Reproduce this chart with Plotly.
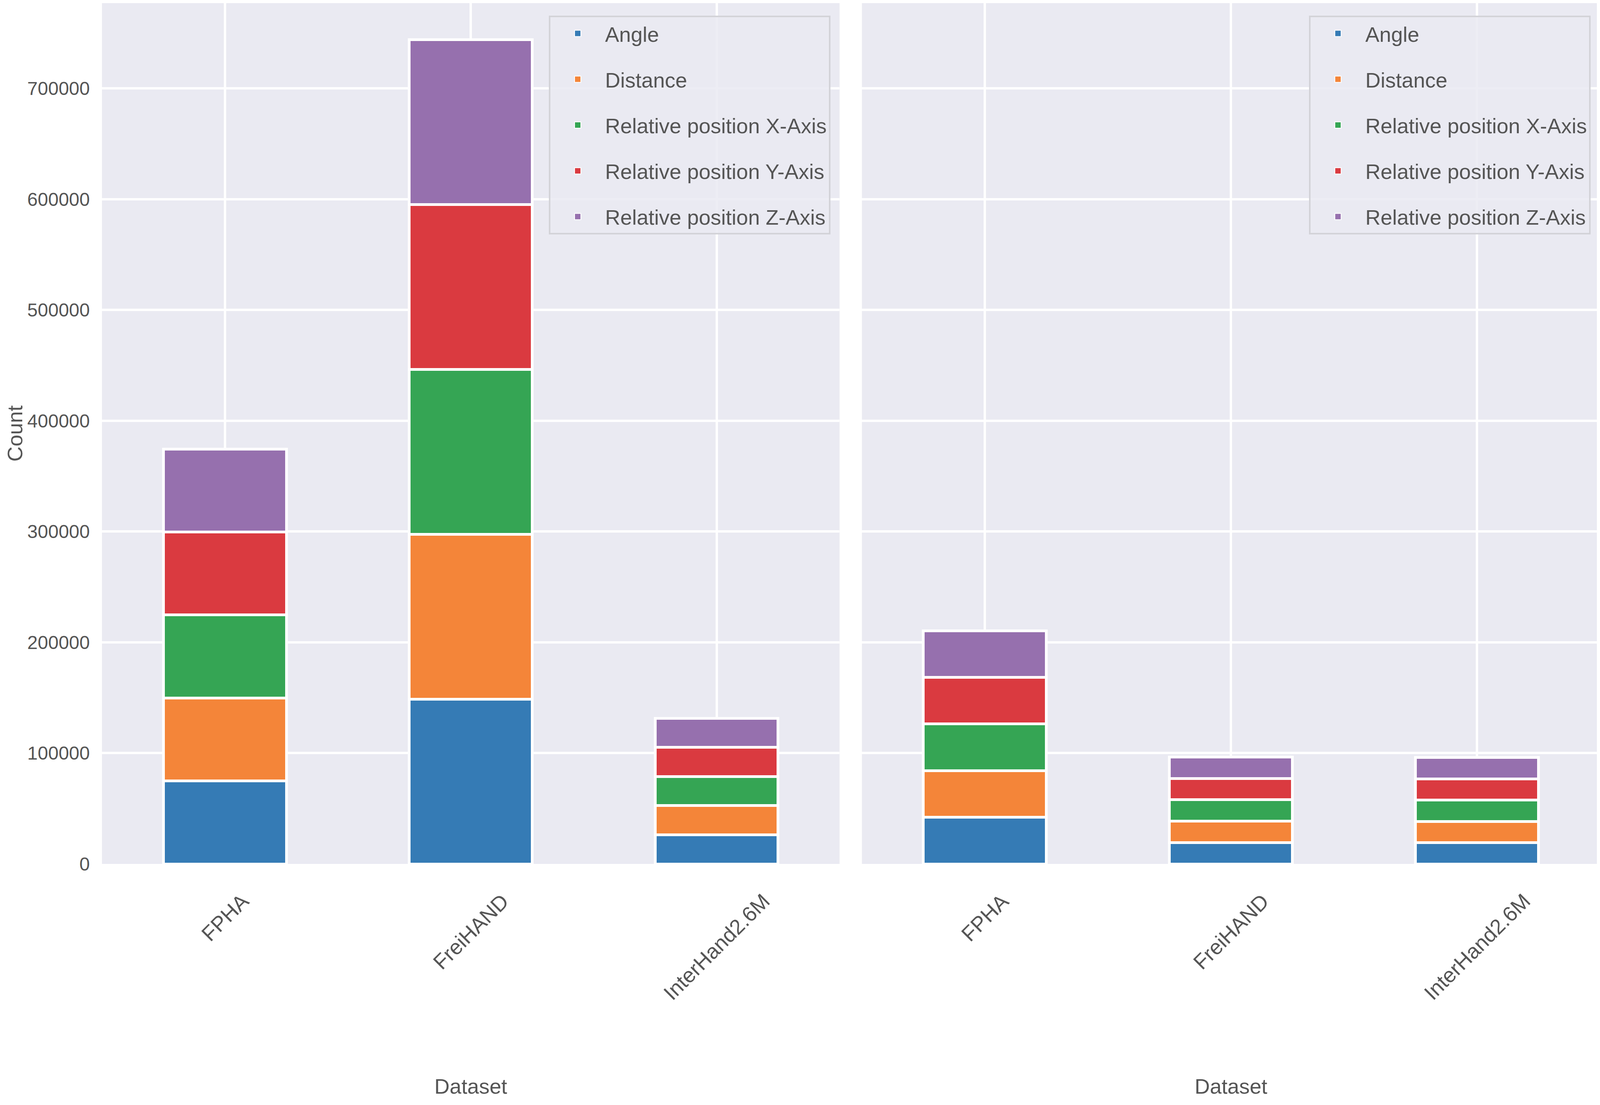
import plotly.graph_objects as go
from plotly.subplots import make_subplots

# categories and relation types
datasets = ["FPHA", "FreiHAND", "InterHand2.6M"]
relations = ["Angle", "Distance", "Relative position X-Axis",
             "Relative position Y-Axis", "Relative position Z-Axis"]
colors = ["#357BB5", "#F48539", "#35A554", "#DA3A40", "#9670AE"]

# left panel counts (per dataset)
angle_left = [74900, 148800, 26300]
distance_left = [74900, 148800, 26300]
relx_left = [74900, 148800, 26300]
rely_left = [74900, 148800, 26300]
relz_left = [74900, 148800, 26300]

# right panel counts (per dataset)
angle_right = [42100, 19300, 19200]
distance_right = [42100, 19300, 19200]
relx_right = [42100, 19300, 19200]
rely_right = [42100, 19300, 19200]
relz_right = [42100, 19300, 19200]

y_ticks = [0, 100000, 200000, 300000, 400000, 500000, 600000, 700000]

left_counts = [angle_left, distance_left, relx_left, rely_left, relz_left]
right_counts = [angle_right, distance_right, relx_right, rely_right, relz_right]

FONT = "Liberation Sans, Arial, sans-serif"
TXT = "#555555"
FS = 54

fig = make_subplots(rows=1, cols=2, shared_yaxes=True)

for i, rel in enumerate(relations):
    for col, counts in [(1, left_counts), (2, right_counts)]:
        fig.add_trace(go.Bar(x=datasets, y=counts[i], name=rel, width=0.5,
                             marker=dict(color=colors[i],
                                         line=dict(color="white", width=7)),
                             showlegend=False),
                      row=1, col=col)

# legend entries (square swatches), one legend per panel
for leg, col in [("legend", 1), ("legend2", 2)]:
    for i, rel in enumerate(relations):
        fig.add_trace(go.Scatter(x=[None], y=[None], mode="markers", name=rel,
                                 legendgroup=rel,
                                 marker=dict(symbol="square", size=16,
                                             color=colors[i],
                                             line=dict(color="white", width=2)),
                                 legend=leg),
                      row=1, col=col)

# rotated category labels, centred on each bar
annotations = []
for xref in ["x", "x2"]:
    for d in datasets:
        annotations.append(dict(x=d, xref=xref, y=0, yref="paper",
                                text=d, showarrow=False, textangle=-45,
                                xanchor="center", yanchor="top", yshift=-62,
                                font=dict(size=FS, color=TXT, family=FONT)))

legend_style = dict(font=dict(size=FS, color=TXT, family=FONT),
                    bgcolor="rgba(234,234,242,0.85)", bordercolor="#D3D3D8",
                    borderwidth=4, traceorder="grouped", tracegroupgap=44,
                    itemwidth=130, xanchor="right", yanchor="top", y=0.9855)

axis_common = dict(showgrid=True, gridcolor="white", gridwidth=6,
                   zeroline=False, showline=False, ticks="")

fig.update_layout(
    width=4088, height=2812,
    margin=dict(l=253, r=0, t=0, b=609),
    barmode="stack",
    paper_bgcolor="white", plot_bgcolor="#EAEAF2",
    font=dict(family=FONT, size=FS, color=TXT),
    legend=dict(x=0.4863, **legend_style),
    legend2=dict(x=0.9938, **legend_style),
    annotations=annotations,
    xaxis=dict(domain=[0, 0.4924], range=[-0.5, 2.5], showticklabels=False,
               title=dict(text="Dataset", standoff=550,
                          font=dict(size=FS, color=TXT)),
               **axis_common),
    xaxis2=dict(domain=[0.5073, 1], range=[-0.5, 2.5], showticklabels=False,
                title=dict(text="Dataset", standoff=550,
                           font=dict(size=FS, color=TXT)),
                **axis_common),
    yaxis=dict(range=[0, 777000], tickvals=y_ticks, tickformat="d",
               ticklabelstandoff=30,
               tickfont=dict(size=48, color=TXT),
               title=dict(text="Count", standoff=24,
                          font=dict(size=FS, color=TXT)),
               **axis_common),
    yaxis2=dict(matches="y", tickvals=y_ticks, showticklabels=False,
                **axis_common),
)

fig.write_html("out.html")
